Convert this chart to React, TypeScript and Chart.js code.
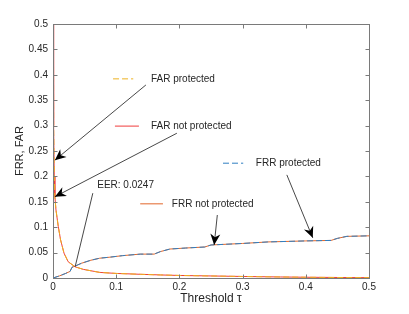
import { useEffect, useRef } from 'react';
import { Chart, registerables } from 'chart.js';
Chart.register(...registerables);

// ---- data ----
const tauFar = [0, 0.001, 0.002, 0.003, 0.0047, 0.0084, 0.012, 0.0174, 0.024, 0.035, 0.048, 0.074, 0.1, 0.138, 0.17, 0.2, 0.25, 0.3, 0.36, 0.4, 0.45, 0.5];
const farNotProtected = [1.0, 0.3, 0.2, 0.16, 0.134, 0.101, 0.075, 0.049, 0.032, 0.022, 0.017, 0.011, 0.009, 0.0073, 0.006, 0.005, 0.004, 0.003, 0.002, 0.0015, 0.001, 0.0007];
const farProtected = [1.0, 0.3, 0.2, 0.16, 0.134, 0.101, 0.075, 0.049, 0.032, 0.022, 0.017, 0.011, 0.009, 0.0073, 0.006, 0.005, 0.004, 0.003, 0.002, 0.0015, 0.001, 0.0007];

const tauFrr = [0, 0.01, 0.02, 0.027, 0.03, 0.036, 0.045, 0.06, 0.074, 0.09, 0.11, 0.138, 0.16, 0.17, 0.185, 0.21, 0.24, 0.25, 0.3, 0.34, 0.4, 0.44, 0.45, 0.465, 0.5];
const frrNotProtected = [0, 0.004, 0.009, 0.013, 0.021, 0.024, 0.029, 0.035, 0.039, 0.041, 0.044, 0.047, 0.047, 0.052, 0.057, 0.059, 0.061, 0.065, 0.068, 0.071, 0.073, 0.074, 0.078, 0.082, 0.083];
const frrProtected = [0, 0.004, 0.009, 0.013, 0.021, 0.024, 0.029, 0.035, 0.039, 0.041, 0.044, 0.047, 0.047, 0.052, 0.057, 0.059, 0.061, 0.065, 0.068, 0.071, 0.073, 0.074, 0.078, 0.082, 0.083];

const xTickLabels = ['0', '0.1', '0.2', '0.3', '0.4', '0.5'];
const yTickLabels = ['0', '0.05', '0.1', '0.15', '0.2', '0.25', '0.3', '0.35', '0.4', '0.45', '0.5'];

// ---- annotations (data coordinates) ----
const legendLabels = ['FAR protected', 'FAR not protected', 'FRR protected', 'FRR not protected'];
const labelTau = [0.155, 0.155, 0.321, 0.188];
const labelVal = [0.392, 0.299, 0.226, 0.146];
const sampleStart = [0.095, 0.098, 0.269, 0.138];
const sampleEnd = [0.127, 0.136, 0.301, 0.174];
const arrowFrom = [[0.147, 0.38], [0.196, 0.285], [0.26, 0.124], [0.37, 0.203]];
const arrowTo = [[0.003, 0.232], [0.003, 0.16], [0.255, 0.065], [0.411, 0.079]];
const eerLabel = 'EER: 0.0247';
const eerLabelPos = [0.07, 0.183];
const eerLine = [[0.063, 0.167], [0.035, 0.022]];

const COLORS = {
  farP: '#edb120',
  farN: '#f03c3c',
  frrP: '#2f7fc1',
  frrN: '#e2662a',
};
const sampleColors = [COLORS.farP, COLORS.farN, COLORS.frrP, COLORS.frrN];
const sampleDash = [[6, 3], [], [6, 3], []];
const FONT = '"Liberation Sans", Arial, sans-serif';
const TEXT = '#262626';

const annot = {
  id: 'annot',
  afterDatasetsDraw(chart: any) {
    const { ctx, chartArea: a, scales } = chart;
    const x = scales.x, y = scales.y;
    const px = (v: number) => x.getPixelForValue(v);
    const py = (v: number) => y.getPixelForValue(v);
    ctx.save();
    // box
    ctx.strokeStyle = '#7a7a7a';
    ctx.lineWidth = 1;
    ctx.setLineDash([]);
    const L = Math.round(a.left) + 0.5, R = Math.round(a.right) + 0.5;
    const T = Math.round(a.top) + 0.5, B = Math.round(a.bottom) + 0.5;
    ctx.strokeRect(L, T, R - L, B - T);
    ctx.beginPath();
    x.ticks.forEach((t: any) => {
      const X = Math.round(px(t.value)) + 0.5;
      ctx.moveTo(X, B); ctx.lineTo(X, B - 4);
      ctx.moveTo(X, T); ctx.lineTo(X, T + 4);
    });
    y.ticks.forEach((t: any) => {
      const Y = Math.round(py(t.value)) + 0.5;
      ctx.moveTo(L, Y); ctx.lineTo(L + 4, Y);
      ctx.moveTo(R, Y); ctx.lineTo(R - 4, Y);
    });
    ctx.stroke();

    // legend-like labels
    ctx.font = '10px ' + FONT;
    ctx.textBaseline = 'middle';
    ctx.textAlign = 'left';
    for (let i = 0; i < legendLabels.length; i++) {
      const yy = py(labelVal[i]);
      ctx.strokeStyle = sampleColors[i];
      ctx.lineWidth = 1;
      ctx.setLineDash(sampleDash[i]);
      ctx.beginPath();
      ctx.moveTo(px(sampleStart[i]), yy);
      ctx.lineTo(px(sampleEnd[i]), yy);
      ctx.stroke();
      ctx.setLineDash([]);
      ctx.fillStyle = TEXT;
      ctx.fillText(legendLabels[i], px(labelTau[i]), yy);
    }
    ctx.fillText(eerLabel, px(eerLabelPos[0]), py(eerLabelPos[1]));

    // arrows
    const arrow = (x1: number, y1: number, x2: number, y2: number, head: boolean) => {
      ctx.strokeStyle = '#333';
      ctx.lineWidth = 0.9;
      ctx.beginPath(); ctx.moveTo(x1, y1); ctx.lineTo(x2, y2); ctx.stroke();
      if (!head) return;
      const ang = Math.atan2(y2 - y1, x2 - x1);
      const c = Math.cos(ang), s = Math.sin(ang);
      const HL = 11, HW = 5;
      const bx = x2 - HL * c, by = y2 - HL * s;
      const nx = x2 - HL * 0.7 * c, ny = y2 - HL * 0.7 * s;
      ctx.fillStyle = '#000';
      ctx.beginPath();
      ctx.moveTo(x2, y2);
      ctx.lineTo(bx - HW * s, by + HW * c);
      ctx.lineTo(nx, ny);
      ctx.lineTo(bx + HW * s, by - HW * c);
      ctx.closePath();
      ctx.fill();
    };
    for (let i = 0; i < arrowFrom.length; i++) {
      arrow(px(arrowFrom[i][0]), py(arrowFrom[i][1]), px(arrowTo[i][0]), py(arrowTo[i][1]), true);
    }
    arrow(px(eerLine[0][0]), py(eerLine[0][1]), px(eerLine[1][0]), py(eerLine[1][1]), false);
    ctx.restore();
  },
};

export default function App() {
  const ref = useRef<HTMLCanvasElement | null>(null);
  useEffect(() => {
    if (!ref.current) return;
    const pts = (xs: number[], ys: number[]) => xs.map((v, i) => ({ x: v, y: ys[i] }));
    const chart = new Chart(ref.current, {
      type: 'line',
      data: {
        datasets: [
          { label: 'FRR protected', data: pts(tauFrr, frrProtected), borderColor: COLORS.frrP, borderDash: [6, 3], borderWidth: 1, pointRadius: 0, order: 0 },
          { label: 'FRR not protected', data: pts(tauFrr, frrNotProtected), borderColor: COLORS.frrN, borderWidth: 1, pointRadius: 0, order: 1 },
          { label: 'FAR protected', data: pts(tauFar, farProtected), borderColor: COLORS.farP, borderDash: [6, 3], borderWidth: 1, pointRadius: 0, order: 0 },
          { label: 'FAR not protected', data: pts(tauFar, farNotProtected), borderColor: COLORS.farN, borderWidth: 1, pointRadius: 0, order: 1 },
        ],
      },
      options: {
        responsive: false,
        animation: false,
        devicePixelRatio: 1,
        layout: { padding: { left: 0, top: 24, right: 40, bottom: 0 } },
        plugins: { legend: { display: false }, tooltip: { enabled: false } },
        elements: { line: { tension: 0 } },
        scales: {
          x: {
            type: 'linear',
            min: 0,
            max: 0.5,
            afterFit: (s: any) => { s.height = 36; },
            grid: { display: false, drawTicks: false },
            border: { display: false },
            ticks: {
              stepSize: 0.1,
              padding: 3,
              color: TEXT,
              font: { family: FONT, size: 10 },
              maxRotation: 0,
              callback: (_v: any, i: number) => xTickLabels[i],
            },
            title: { display: true, text: 'Threshold τ', color: TEXT, font: { family: FONT, size: 12 }, padding: { top: 0, bottom: 8 } },
          },
          y: {
            type: 'linear',
            min: 0,
            max: 0.5,
            afterFit: (s: any) => { s.width = 53; },
            grid: { display: false, drawTicks: false },
            border: { display: false },
            ticks: {
              stepSize: 0.05,
              padding: 5,
              color: TEXT,
              font: { family: FONT, size: 10 },
              callback: (_v: any, i: number) => yTickLabels[i],
            },
            title: { display: true, text: 'FRR, FAR', color: TEXT, font: { family: FONT, size: 11 }, padding: { top: 13, bottom: 0 } },
          },
        },
      },
      plugins: [annot],
    } as any);
    return () => chart.destroy();
  }, []);
  return (
    <div style={{ position: 'absolute', left: 0, top: 0, width: 409, height: 314, background: '#fff' }}>
      <canvas ref={ref} width={409} height={314} style={{ width: 409, height: 314 }} />
    </div>
  );
}
